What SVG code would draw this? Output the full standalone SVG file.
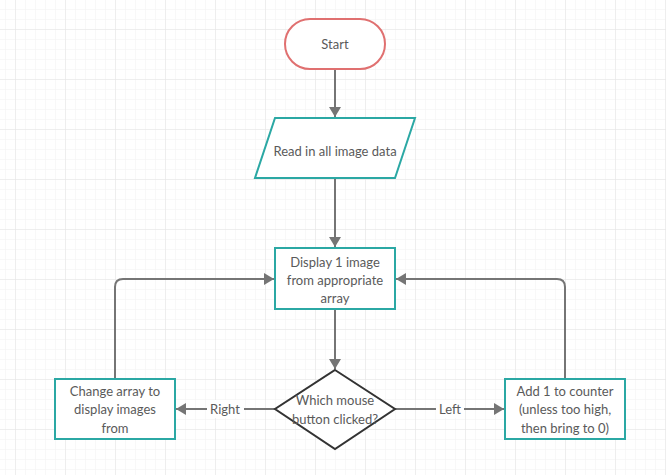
<svg xmlns="http://www.w3.org/2000/svg" width="666" height="475" viewBox="0 0 666 475">
<defs>
<pattern id="minor" x="5" y="9" width="10" height="10" patternUnits="userSpaceOnUse">
<path d="M0 0H10M0 0V10" fill="none" stroke="#f2f2f2" stroke-width="1"/>
</pattern>
<pattern id="major" x="15" y="29" width="50" height="50" patternUnits="userSpaceOnUse">
<path d="M0 0H50M0 0V50" fill="none" stroke="#e4e4e4" stroke-width="1"/>
</pattern>
<marker id="arr" viewBox="0 0 10 12" refX="10" refY="6" markerWidth="10" markerHeight="12" markerUnits="userSpaceOnUse" orient="auto">
<path d="M0 0L10 6L0 12Z" fill="#757575"/>
</marker>
</defs>
<style>
.t{font-family:Lato,"Liberation Sans",sans-serif;font-size:13px;fill:#5a5a5a;text-anchor:middle}
.box{fill:#fff;stroke:#2ba8a4;stroke-width:2}
.c{fill:none;stroke:#757575;stroke-width:2}
</style>
<rect width="666" height="475" fill="#fff"/>
<rect width="666" height="475" fill="url(#minor)"/>
<rect width="666" height="475" fill="url(#major)"/>
<g id="connectors">
<path class="c" d="M335 69V117" marker-end="url(#arr)"/>
<path class="c" d="M335 178V247" marker-end="url(#arr)"/>
<path class="c" d="M335 309V369" marker-end="url(#arr)"/>
<path class="c" d="M275 409H176" marker-end="url(#arr)"/>
<path class="c" d="M395 409H504" marker-end="url(#arr)"/>
<path class="c" d="M115 379V287Q115 279 123 279H274" marker-end="url(#arr)"/>
<path class="c" d="M565 379V287Q565 279 557 279H396" marker-end="url(#arr)"/>
<rect x="207" y="400" width="37" height="18" fill="#fff"/>
<text class="t" x="225" y="414">Right</text>
<rect x="436" y="400" width="28" height="18" fill="#fff"/>
<text class="t" x="450" y="414">Left</text>
</g>
<g id="start">
<rect x="285" y="19" width="100" height="50" rx="25" fill="#fff" stroke="#e07070" stroke-width="2"/>
<text class="t" x="335" y="49">Start</text>
</g>
<g id="read">
<path class="box" d="M275 118H415L395 178H255Z"/>
<text class="t" x="335" y="156">Read in all image data</text>
</g>
<g id="display">
<rect class="box" x="275" y="248" width="120" height="61"/>
<text class="t" x="335" y="267">Display 1 image</text>
<text class="t" x="335" y="285">from appropriate</text>
<text class="t" x="335" y="303">array</text>
</g>
<g id="decision">
<path d="M335 370L395 409L335 449L275 409Z" fill="#fff" stroke="#333" stroke-width="2"/>
<text class="t" x="335" y="405">Which mouse</text>
<text class="t" x="335" y="424">button clicked?</text>
</g>
<g id="change">
<rect class="box" x="55" y="379" width="120" height="60"/>
<text class="t" x="115" y="396">Change array to</text>
<text class="t" x="115" y="414">display images</text>
<text class="t" x="115" y="433">from</text>
</g>
<g id="add">
<rect class="box" x="505" y="379" width="120" height="60"/>
<text class="t" x="565" y="396">Add 1 to counter</text>
<text class="t" x="565" y="414">(unless too high,</text>
<text class="t" x="565" y="433">then bring to 0)</text>
</g>
</svg>
